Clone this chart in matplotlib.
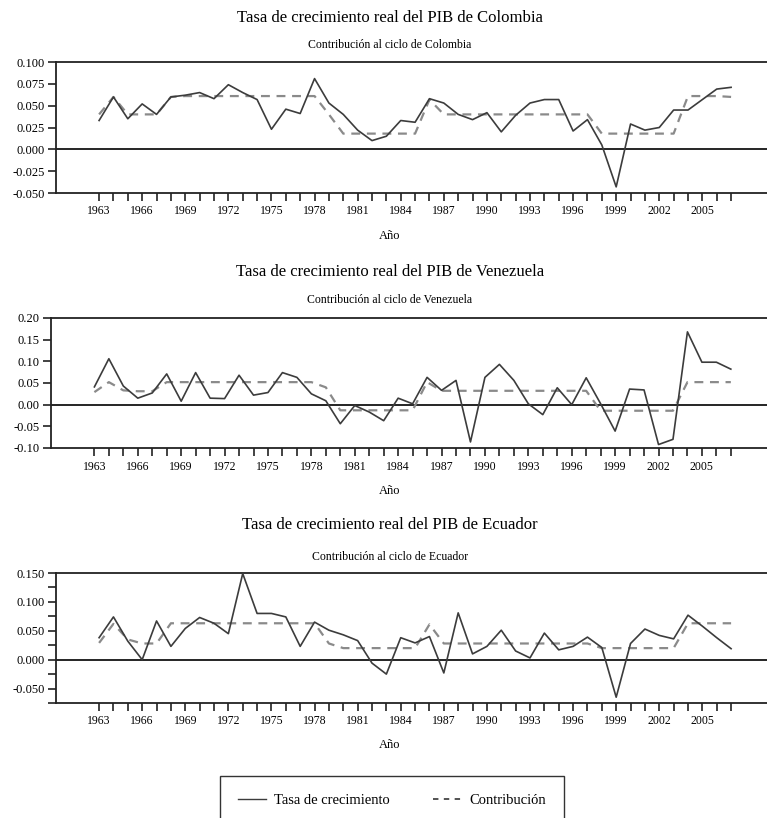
import matplotlib
matplotlib.use("Agg")
import matplotlib.pyplot as plt
from matplotlib.lines import Line2D

plt.rcParams['font.family'] = ['Liberation Serif', 'DejaVu Serif']

years = list(range(1963, 2008))

col_growth = [0.033, 0.060, 0.035, 0.052, 0.040, 0.060, 0.062, 0.065, 0.058, 0.074,
              0.065, 0.057, 0.023, 0.046, 0.041, 0.081, 0.053, 0.040, 0.022, 0.010,
              0.015, 0.033, 0.031, 0.058, 0.053, 0.040, 0.034, 0.042, 0.020, 0.039,
              0.053, 0.057, 0.057, 0.021, 0.034, 0.005, -0.043, 0.029, 0.022, 0.025,
              0.045, 0.045, 0.057, 0.069, 0.071]
col_contrib = [0.040, 0.060, 0.040, 0.040, 0.040, 0.060, 0.061, 0.061, 0.061, 0.061,
               0.061, 0.061, 0.061, 0.061, 0.061, 0.061, 0.040, 0.018, 0.018, 0.018,
               0.018, 0.018, 0.018, 0.057, 0.040, 0.040, 0.040, 0.040, 0.040, 0.040,
               0.040, 0.040, 0.040, 0.040, 0.040, 0.018, 0.018, 0.018, 0.018, 0.018,
               0.018, 0.061, 0.061, 0.061, 0.060]

ven_growth = [0.041, 0.106, 0.043, 0.015, 0.027, 0.071, 0.008, 0.074, 0.015, 0.014,
              0.068, 0.022, 0.028, 0.074, 0.063, 0.025, 0.009, -0.044, -0.002, -0.017,
              -0.037, 0.015, 0.002, 0.063, 0.033, 0.056, -0.086, 0.063, 0.093, 0.056,
              0.002, -0.023, 0.039, 0.000, 0.062, 0.002, -0.061, 0.036, 0.034, -0.092,
              -0.080, 0.168, 0.098, 0.098, 0.082]
ven_contrib = [0.029, 0.052, 0.033, 0.031, 0.031, 0.052, 0.052, 0.052, 0.052, 0.052,
               0.052, 0.052, 0.052, 0.052, 0.052, 0.052, 0.040, -0.013, -0.013, -0.013,
               -0.013, -0.013, -0.013, 0.052, 0.032, 0.032, 0.032, 0.032, 0.032, 0.032,
               0.032, 0.032, 0.032, 0.032, 0.032, -0.014, -0.014, -0.014, -0.014, -0.014,
               -0.014, 0.052, 0.052, 0.052, 0.052]

ecu_growth = [0.038, 0.074, 0.032, 0.000, 0.067, 0.023, 0.054, 0.073, 0.063, 0.045,
              0.149, 0.080, 0.080, 0.074, 0.023, 0.065, 0.051, 0.043, 0.033, -0.006,
              -0.025, 0.038, 0.029, 0.040, -0.023, 0.081, 0.010, 0.023, 0.051, 0.015,
              0.003, 0.046, 0.017, 0.023, 0.039, 0.021, -0.065, 0.028, 0.053, 0.042,
              0.036, 0.077, 0.058, 0.038, 0.019]
ecu_contrib = [0.029, 0.062, 0.035, 0.028, 0.028, 0.063, 0.063, 0.063, 0.063, 0.063,
               0.063, 0.063, 0.063, 0.063, 0.063, 0.063, 0.028, 0.020, 0.020, 0.020,
               0.020, 0.020, 0.020, 0.061, 0.028, 0.028, 0.028, 0.028, 0.028, 0.028,
               0.028, 0.028, 0.028, 0.028, 0.028, 0.020, 0.020, 0.020, 0.020, 0.020,
               0.020, 0.063, 0.063, 0.063, 0.063]

year_labels = list(range(1963, 2006, 3))

col_yticks = [-0.050, -0.025, 0.000, 0.025, 0.050, 0.075, 0.100]
ven_yticks = [-0.10, -0.05, 0.00, 0.05, 0.10, 0.15, 0.20]
ecu_yticks = [-0.050, 0.000, 0.050, 0.100, 0.150]
ecu_yminor = [-0.075, -0.025, 0.025, 0.075, 0.125]

panels = [
    dict(country="Colombia", g=col_growth, c=col_contrib, yt=col_yticks, fmt="%.3f",
         ylim=(-0.050, 0.100), minor=None, left=56, top=62, bottom=193,
         ttl=18, sub=45, ano=236),
    dict(country="Venezuela", g=ven_growth, c=ven_contrib, yt=ven_yticks, fmt="%.2f",
         ylim=(-0.10, 0.20), minor=None, left=51, top=318, bottom=448,
         ttl=272, sub=300, ano=491),
    dict(country="Ecuador", g=ecu_growth, c=ecu_contrib, yt=ecu_yticks, fmt="%.3f",
         ylim=(-0.075, 0.150), minor=ecu_yminor, left=56, top=573, bottom=703,
         ttl=525, sub=557, ano=745),
]

W, H = 767, 818
fig = plt.figure(figsize=(W / 100, H / 100), dpi=100)

solid_color = "#3c3c3c"
dash_color = "#8a8a8a"

for p in panels:
    ax = fig.add_axes([p["left"] / W, 1 - p["bottom"] / H,
                       (W - p["left"]) / W, (p["bottom"] - p["top"]) / H])
    ax.plot(years, p["g"], color=solid_color, lw=1.2, zorder=3)
    ax.plot(years, p["c"], color=dash_color, lw=1.6, dashes=(4, 3), zorder=2)
    ax.axhline(0, color="black", lw=1.2, zorder=1)
    ax.set_xlim(1960, 2009.5)
    ax.set_ylim(*p["ylim"])
    ax.set_xticks(year_labels)
    ax.set_xticklabels([str(y) for y in year_labels])
    ax.set_xticks(years, minor=True)
    ax.set_yticks(p["yt"])
    ax.set_yticklabels([p["fmt"] % v for v in p["yt"]])
    if p["minor"]:
        ax.set_yticks(p["minor"], minor=True)
    ax.tick_params(axis="both", which="both", direction="out", length=6,
                   width=1.2, color="#222222")
    ax.tick_params(axis="x", labelsize=8.5, pad=3)
    ax.tick_params(axis="y", labelsize=9, pad=2)
    ax.spines["right"].set_visible(False)
    for s in ("left", "top", "bottom"):
        ax.spines[s].set_linewidth(1.3)
        ax.spines[s].set_color("#222222")
    fig.text(390 / W, 1 - p["ttl"] / H,
             "Tasa de crecimiento real del PIB de " + p["country"],
             ha="center", va="center", fontsize=12)
    fig.text(390 / W, 1 - p["sub"] / H,
             "Contribución al ciclo de " + p["country"],
             ha="center", va="center", fontsize=8.5)
    fig.text(390 / W, 1 - p["ano"] / H, "Año", ha="center", va="center",
             fontsize=9)

handles = [Line2D([], [], color=solid_color, lw=1.0),
           Line2D([], [], color="#444444", lw=1.3, dashes=(3, 3))]
leg = fig.legend(handles, ["Tasa de crecimiento", "Contribución"],
                 loc="upper left", bbox_to_anchor=(220 / W, 1 - 776 / H),
                 ncol=2, frameon=True, fancybox=False, edgecolor="black",
                 fontsize=10.5, handlelength=1.9, handletextpad=0.55,
                 columnspacing=3.0, borderpad=1.25, borderaxespad=0)
leg.get_frame().set_linewidth(1.0)

fig.savefig("out.png", dpi=100)
